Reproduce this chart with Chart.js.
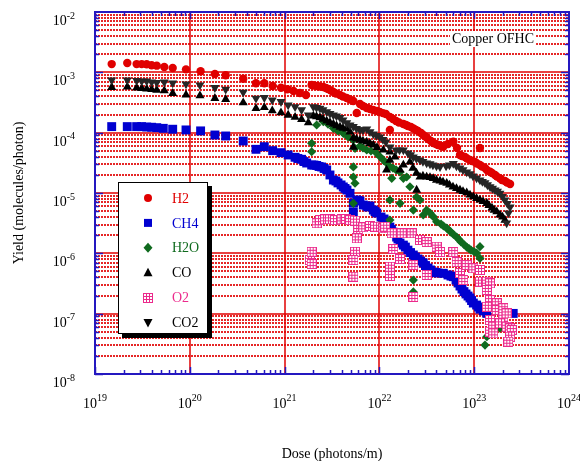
<!DOCTYPE html>
<html>
<head>
<meta charset="utf-8">
<script src="https://cdn.jsdelivr.net/npm/chart.js@4/dist/chart.umd.min.js"></script>
<style>
  html, body { margin: 0; padding: 0; background: #fff; }
  canvas { display: block; }
</style>
</head>
<body>
<canvas id="chart" width="580" height="461"></canvas>
<script>
// [dose (photons/m), yield (molecules/photon)]
const h2 = [
  [1.50e19, 1.37e-3], [2.19e19, 1.43e-3], [2.75e19, 1.37e-3], [3.11e19, 1.37e-3], [3.51e19, 1.36e-3],
  [3.96e19, 1.31e-3], [4.48e19, 1.29e-3], [5.38e19, 1.23e-3], [6.60e19, 1.18e-3], [9.12e19, 1.12e-3],
  [1.30e20, 1.04e-3], [1.84e20, 9.38e-4], [2.39e20, 8.93e-4], [3.66e20, 7.84e-4], [4.99e20, 6.58e-4],
  [6.11e20, 6.58e-4], [7.48e20, 5.93e-4], [9.16e20, 5.56e-4], [1.07e21, 5.24e-4], [1.24e21, 4.91e-4],
  [1.45e21, 4.54e-4], [1.68e21, 4.21e-4], [1.93e21, 6.17e-4], [2.20e21, 5.93e-4], [2.56e21, 5.71e-4],
  [2.87e21, 5.30e-4], [3.27e21, 4.72e-4], [3.84e21, 4.21e-4], [4.52e21, 3.76e-4], [5.31e21, 3.35e-4],
  [5.77e21, 2.12e-4], [6.24e21, 2.99e-4], [7.35e21, 2.56e-4], [8.63e21, 2.38e-4], [1.01e22, 2.20e-4],
  [1.17e22, 2.04e-4], [1.29e22, 1.82e-4], [1.29e22, 1.11e-4], [1.50e22, 1.56e-4], [1.79e22, 1.39e-4],
  [2.00e22, 1.29e-4], [2.28e22, 1.18e-4], [2.55e22, 1.07e-4], [2.90e22, 9.15e-5], [3.26e22, 7.85e-5],
  [3.70e22, 6.74e-5], [4.15e22, 6.24e-5], [4.72e22, 5.85e-5], [5.29e22, 6.49e-5], [6.02e22, 7.08e-5],
  [6.59e22, 5.57e-5], [7.08e22, 4.27e-5], [8.00e22, 3.95e-5], [9.03e22, 3.52e-5], [1.02e23, 3.27e-5],
  [1.15e23, 5.57e-5], [1.15e23, 2.91e-5], [1.30e23, 2.59e-5], [1.47e23, 2.25e-5], [1.66e23, 1.99e-5],
  [1.87e23, 1.75e-5], [2.11e23, 1.58e-5], [2.39e23, 1.41e-5],
  [2.04e21, 6.05e-4], [2.36e21, 5.82e-4], [2.73e21, 5.50e-4], [3.08e21, 5.00e-4], [3.48e21, 4.46e-4],
  [4.13e21, 3.97e-4], [4.90e21, 3.55e-4], [6.71e21, 2.77e-4], [7.96e21, 2.47e-4], [9.44e21, 2.29e-4],
  [1.09e22, 2.11e-4], [1.39e22, 1.68e-4], [1.61e22, 1.47e-4], [1.91e22, 1.34e-4], [2.15e22, 1.24e-4],
  [2.43e22, 1.11e-4], [2.75e22, 9.86e-5], [3.10e22, 8.48e-5], [3.50e22, 7.28e-5], [3.95e22, 6.49e-5],
  [4.47e22, 6.01e-5], [7.43e22, 4.10e-5], [8.39e22, 3.73e-5], [9.48e22, 3.39e-5], [1.07e23, 3.08e-5],
  [1.21e23, 2.75e-5], [1.36e23, 2.40e-5], [1.54e23, 2.14e-5], [1.74e23, 1.87e-5], [1.96e23, 1.64e-5],
  [2.22e23, 1.49e-5]
];

const ch4 = [
  [1.50e19, 1.26e-4], [2.19e19, 1.26e-4], [2.75e19, 1.26e-4], [3.11e19, 1.26e-4], [3.51e19, 1.24e-4],
  [3.96e19, 1.23e-4], [4.48e19, 1.21e-4], [5.25e19, 1.18e-4], [6.60e19, 1.14e-4], [9.12e19, 1.11e-4],
  [1.30e20, 1.07e-4], [1.84e20, 9.15e-5], [2.39e20, 8.81e-5], [3.66e20, 7.28e-5], [4.99e20, 5.30e-5],
  [6.11e20, 5.85e-5], [7.48e20, 5.03e-5], [9.16e20, 4.66e-5], [1.09e21, 4.27e-5], [1.29e21, 3.91e-5],
  [1.51e21, 3.62e-5], [1.71e21, 3.14e-5], [1.93e21, 2.91e-5], [2.18e21, 2.86e-5], [2.46e21, 2.70e-5],
  [2.78e21, 2.41e-5], [3.01e21, 1.99e-5], [3.27e21, 1.64e-5], [3.66e21, 1.47e-5], [4.16e21, 1.26e-5],
  [4.55e21, 1.12e-5], [4.90e21, 9.89e-6], [5.31e21, 6.82e-6], [5.31e21, 4.84e-6], [5.77e21, 7.66e-6],
  [6.24e21, 7.37e-6], [6.76e21, 6.32e-6], [7.35e21, 6.08e-6], [7.96e21, 6.08e-6], [8.63e21, 5.22e-6],
  [9.37e21, 4.66e-6], [1.04e22, 4.00e-6], [1.19e22, 3.43e-6], [1.29e22, 2.73e-6], [1.39e22, 2.25e-6],
  [1.52e22, 1.86e-6], [1.65e22, 1.48e-6], [1.79e22, 1.37e-6], [2.00e22, 1.13e-6], [2.28e22, 9.38e-7],
  [2.55e22, 8.05e-7], [2.90e22, 6.92e-7], [3.26e22, 5.71e-7], [3.70e22, 4.90e-7], [4.15e22, 4.72e-7],
  [4.72e22, 4.67e-7], [5.29e22, 4.38e-7], [6.02e22, 4.10e-7], [6.75e22, 3.22e-7], [7.43e22, 2.56e-7],
  [8.20e22, 2.12e-7], [9.03e22, 1.82e-7], [9.79e22, 1.50e-7], [1.06e23, 1.39e-7], [1.15e23, 1.19e-7],
  [1.25e23, 1.11e-7], [1.36e23, 1.01e-7], [2.58e23, 1.01e-7],
  [1.38e21, 3.73e-5], [1.60e21, 3.32e-5], [2.04e21, 2.91e-5], [2.31e21, 2.75e-5], [2.61e21, 2.55e-5],
  [3.48e21, 1.58e-5], [3.94e21, 1.36e-5], [4.34e21, 1.19e-5], [5.94e21, 7.51e-6], [7.59e21, 5.86e-6],
  [8.99e21, 4.93e-6], [1.12e22, 3.71e-6], [1.34e22, 2.48e-6], [1.57e22, 1.73e-6], [1.88e22, 1.27e-6],
  [2.13e22, 1.03e-6], [2.40e22, 8.69e-7], [2.72e22, 7.46e-7], [3.06e22, 6.28e-7], [3.46e22, 5.30e-7],
  [3.95e22, 4.81e-7], [5.69e22, 4.20e-7], [6.43e22, 3.61e-7], [7.08e22, 2.87e-7], [7.80e22, 2.32e-7],
  [8.61e22, 1.96e-7], [9.38e22, 1.65e-7], [1.11e23, 1.29e-7]
];

const h2o = [
  [1.93e21, 6.67e-5], [1.93e21, 4.83e-5], [2.18e21, 1.34e-4], [2.56e21, 1.52e-4], [2.87e21, 1.39e-4],
  [3.27e21, 1.18e-4], [3.66e21, 1.07e-4], [4.16e21, 9.76e-5], [4.67e21, 8.48e-5], [5.31e21, 7.55e-5],
  [5.53e21, 5.51e-5], [5.31e21, 2.70e-5], [5.31e21, 1.84e-5], [5.53e21, 1.45e-5], [5.31e21, 6.75e-6],
  [6.24e21, 6.01e-5], [7.35e21, 5.16e-5], [8.15e21, 4.97e-5], [9.37e21, 4.55e-5], [1.10e22, 3.52e-5],
  [1.29e22, 2.73e-5], [1.35e22, 1.75e-5], [1.50e22, 2.41e-5], [1.65e22, 2.23e-5], [1.79e22, 1.75e-5],
  [1.94e22, 1.84e-5], [2.10e22, 1.27e-5], [1.29e22, 7.66e-6], [1.65e22, 6.75e-6], [1.29e22, 3.56e-6],
  [2.28e22, 5.22e-6], [2.47e22, 8.59e-6], [2.68e22, 7.66e-6], [2.90e22, 4.32e-6], [3.15e22, 5.22e-6],
  [3.70e22, 4.05e-6], [4.02e22, 3.34e-6], [4.47e22, 3.06e-6], [5.13e22, 2.63e-6], [5.69e22, 2.25e-6],
  [6.53e22, 1.86e-6], [7.26e22, 1.54e-6], [8.34e22, 1.27e-6], [9.25e22, 1.13e-6], [1.06e23, 1.01e-6],
  [1.15e23, 1.29e-6], [1.15e23, 8.26e-7], [2.28e22, 3.61e-7], [2.28e22, 2.29e-7], [1.36e23, 4.15e-8],
  [1.30e23, 3.02e-8], [1.47e23, 5.36e-8], [1.87e23, 5.78e-8],
  [6.71e21, 5.57e-5], [1.01e22, 4.03e-5], [1.19e22, 3.14e-5], [1.39e22, 2.59e-5], [3.42e22, 4.66e-6],
  [4.74e22, 2.84e-6], [5.36e22, 2.44e-6], [6.05e22, 2.05e-6], [6.92e22, 1.69e-6], [7.80e22, 1.40e-6],
  [8.81e22, 1.20e-6], [9.95e22, 1.07e-6]
];

const co = [
  [1.50e19, 5.65e-4], [2.19e19, 5.71e-4], [2.75e19, 5.50e-4], [3.11e19, 5.40e-4], [3.51e19, 5.30e-4],
  [3.96e19, 5.19e-4], [4.48e19, 5.09e-4], [5.38e19, 4.96e-4], [6.60e19, 4.49e-4], [9.12e19, 4.21e-4],
  [1.28e20, 4.10e-4], [1.84e20, 3.71e-4], [2.39e20, 3.57e-4], [3.66e20, 3.14e-4], [4.99e20, 2.53e-4],
  [6.11e20, 2.63e-4], [7.41e20, 2.31e-4], [9.16e20, 2.14e-4], [1.09e21, 1.96e-4], [1.29e21, 1.80e-4],
  [1.51e21, 1.66e-4], [1.78e21, 1.46e-4], [2.01e21, 1.89e-4], [2.36e21, 1.78e-4], [2.78e21, 1.56e-4],
  [3.27e21, 1.39e-4], [3.84e21, 1.24e-4], [4.52e21, 1.15e-4], [5.31e21, 8.17e-5], [5.31e21, 5.78e-5],
  [6.24e21, 7.55e-5], [7.35e21, 7.00e-5], [8.63e21, 6.24e-5], [1.10e22, 5.16e-5], [1.19e22, 2.41e-5],
  [1.29e22, 3.52e-5], [1.46e22, 3.95e-5], [1.65e22, 2.41e-5], [1.79e22, 2.91e-5], [2.10e22, 3.27e-5],
  [2.47e22, 1.12e-5], [2.68e22, 1.84e-5], [3.15e22, 1.84e-5], [3.70e22, 1.75e-5], [4.36e22, 1.58e-5],
  [5.13e22, 1.45e-5], [5.97e22, 1.26e-5], [7.08e22, 1.12e-5], [8.34e22, 1.01e-5], [9.79e22, 8.69e-6],
  [1.15e23, 7.66e-6], [1.36e23, 6.75e-6], [1.54e23, 5.64e-6], [1.73e23, 4.90e-6], [1.87e23, 4.32e-6],
  [2.11e23, 3.56e-6],
  [2.17e21, 1.85e-4], [2.54e21, 1.68e-4], [3.01e21, 1.47e-4], [3.53e21, 1.31e-4], [4.13e21, 1.19e-4],
  [4.90e21, 1.03e-4], [5.73e21, 7.85e-5], [6.71e21, 7.28e-5], [7.96e21, 6.61e-5], [9.44e21, 5.68e-5],
  [1.29e22, 4.78e-5], [2.26e22, 2.59e-5], [2.46e22, 2.14e-5], [2.88e22, 1.91e-5], [3.42e22, 1.81e-5],
  [4.00e22, 1.64e-5], [4.69e22, 1.52e-5], [5.48e22, 1.36e-5], [6.50e22, 1.19e-5], [7.62e22, 1.06e-5],
  [9.03e22, 9.27e-6], [1.06e23, 8.11e-6], [1.24e23, 7.23e-6], [1.43e23, 6.21e-6], [1.62e23, 5.22e-6],
  [1.99e23, 4.00e-6]
];

const o2 = [
  [1.85e21, 7.75e-7], [1.93e21, 1.06e-6], [1.93e21, 6.65e-7], [2.18e21, 3.15e-6], [2.36e21, 3.56e-6],
  [2.67e21, 3.66e-6], [3.01e21, 3.66e-6], [3.40e21, 3.56e-6], [4.00e21, 3.66e-6], [4.45e21, 3.71e-6],
  [4.90e21, 3.56e-6], [5.53e21, 3.48e-6], [5.53e21, 1.06e-6], [5.31e21, 7.75e-7], [5.31e21, 4.10e-7],
  [5.98e21, 2.44e-6], [5.77e21, 1.77e-6], [6.76e21, 2.70e-6], [7.96e21, 2.84e-6], [8.99e21, 2.76e-6],
  [1.10e22, 2.60e-6], [1.15e22, 2.76e-6], [1.35e22, 2.15e-6], [1.40e22, 1.18e-6], [1.29e22, 6.00e-7],
  [1.29e22, 4.21e-7], [1.65e22, 8.05e-7], [1.72e22, 2.15e-6], [2.19e22, 2.15e-6], [2.68e22, 1.66e-6],
  [3.15e22, 1.54e-6], [4.02e22, 1.29e-6], [4.36e22, 1.05e-6], [2.28e22, 6.40e-7], [3.15e22, 4.38e-7],
  [2.28e22, 1.89e-7], [6.02e22, 1.05e-6], [6.53e22, 7.18e-7], [7.08e22, 4.72e-7], [7.67e22, 3.61e-7],
  [8.34e22, 6.40e-7], [9.79e22, 5.65e-7], [1.15e23, 5.30e-7], [1.15e23, 3.39e-7], [1.36e23, 3.39e-7],
  [1.47e23, 3.18e-7], [1.36e23, 2.47e-7], [1.47e23, 1.68e-7], [1.36e23, 1.30e-7], [1.73e23, 1.49e-7],
  [1.47e23, 7.85e-8], [1.73e23, 1.15e-7], [2.03e23, 1.23e-7], [2.03e23, 8.91e-8], [2.20e23, 1.01e-7],
  [1.47e23, 5.02e-8], [1.59e23, 6.08e-8], [1.59e23, 4.72e-8], [1.87e23, 6.92e-8], [2.20e23, 6.08e-8],
  [2.39e23, 5.71e-8], [2.49e23, 5.36e-8], [2.39e23, 4.15e-8], [2.29e23, 3.43e-8]
];

const co2 = [
  [1.50e19, 7.46e-4], [2.19e19, 7.46e-4], [2.75e19, 7.32e-4], [3.11e19, 7.18e-4], [3.51e19, 7.18e-4],
  [3.96e19, 6.91e-4], [4.48e19, 6.78e-4], [5.38e19, 6.91e-4], [6.60e19, 6.65e-4], [9.12e19, 6.41e-4],
  [1.28e20, 6.17e-4], [1.84e20, 5.56e-4], [2.39e20, 5.24e-4], [3.66e20, 4.67e-4], [4.99e20, 3.71e-4],
  [6.11e20, 3.80e-4], [7.41e20, 3.48e-4], [9.16e20, 3.26e-4], [1.09e21, 2.87e-4], [1.29e21, 2.69e-4],
  [1.51e21, 2.38e-4], [1.78e21, 1.96e-4], [2.01e21, 2.69e-4], [2.36e21, 2.53e-4], [2.78e21, 2.22e-4],
  [3.27e21, 1.96e-4], [3.84e21, 1.78e-4], [4.52e21, 1.45e-4], [5.31e21, 1.26e-4], [6.24e21, 1.11e-4],
  [7.35e21, 1.15e-4], [8.63e21, 9.51e-5], [1.01e22, 8.48e-5], [1.17e22, 7.00e-5], [1.29e22, 5.78e-5],
  [1.50e22, 5.16e-5], [1.79e22, 5.16e-5], [2.00e22, 4.60e-5], [2.28e22, 3.95e-5], [2.68e22, 3.52e-5],
  [3.15e22, 3.14e-5], [3.67e22, 2.91e-5], [4.36e22, 2.73e-5], [5.05e22, 2.80e-5], [6.02e22, 3.08e-5],
  [7.08e22, 2.59e-5], [8.34e22, 2.23e-5], [9.71e22, 1.91e-5], [1.15e23, 1.64e-5], [1.30e23, 1.47e-5],
  [1.47e23, 1.26e-5], [1.66e23, 1.12e-5], [1.87e23, 9.89e-6], [2.11e23, 7.66e-6], [2.39e23, 5.86e-6],
  [2.20e23, 3.18e-6],
  [2.17e21, 2.61e-4], [2.54e21, 2.38e-4], [3.01e21, 2.08e-4], [3.53e21, 1.89e-4], [4.13e21, 1.62e-4],
  [4.90e21, 1.34e-4], [5.73e21, 1.17e-4], [6.71e21, 1.11e-4], [7.96e21, 1.03e-4], [9.31e21, 8.97e-5],
  [1.09e22, 7.71e-5], [1.63e22, 5.16e-5], [2.13e22, 4.27e-5], [2.46e22, 3.73e-5], [2.88e22, 3.33e-5],
  [3.42e22, 3.03e-5], [4.00e22, 2.80e-5], [5.48e22, 2.91e-5], [6.50e22, 2.80e-5], [7.62e22, 2.41e-5],
  [9.03e22, 2.07e-5], [1.06e23, 1.77e-5], [1.22e23, 1.55e-5], [1.38e23, 1.36e-5], [1.56e23, 1.19e-5],
  [1.76e23, 1.06e-5], [1.99e23, 8.75e-6], [2.24e23, 6.70e-6], [2.30e23, 4.66e-6]
];

const seriesNames = ['H2', 'CH4', 'H2O', 'CO', 'O2', 'CO2'];
const xTickExps = [19, 20, 21, 22, 23, 24];
const yTickExps = [-8, -7, -6, -5, -4, -3, -2];

const RED = '#e00000';
const BLUE = '#0000d0';
const GREEN = '#0f6a1e';
const PINK = '#ec2a8c';
const DARK = '#262626';
const FRAME = '#2418c0';
const serif = '"Liberation Serif", "Times New Roman", serif';

// pink square with a 3x3 grid of white cells (O2 marker)
const o2Img = document.createElement('canvas');
o2Img.width = 10;
o2Img.height = 10;
(function () {
  const c = o2Img.getContext('2d');
  c.fillStyle = PINK;
  c.fillRect(0, 0, 10, 10);
  c.fillStyle = '#fff';
  for (let i = 0; i < 3; i++) {
    for (let j = 0; j < 3; j++) {
      c.fillRect(1 + i * 3, 1 + j * 3, 2, 2);
    }
  }
})();

function toPoints(arr) {
  return arr.map(p => ({x: p[0], y: p[1]}));
}

function drawMarker(ctx, kind, color, cx, cy) {
  if (kind === 'o2') {
    ctx.drawImage(o2Img, Math.round(cx - 5), Math.round(cy - 5));
    return;
  }
  ctx.fillStyle = color;
  ctx.beginPath();
  if (kind === 'circle') {
    ctx.arc(cx, cy, 4, 0, Math.PI * 2);
  } else if (kind === 'rect') {
    ctx.rect(cx - 4, cy - 4, 8, 8);
  } else if (kind === 'diamond') {
    ctx.moveTo(cx, cy - 5); ctx.lineTo(cx + 4.5, cy); ctx.lineTo(cx, cy + 5); ctx.lineTo(cx - 4.5, cy);
  } else if (kind === 'up') {
    ctx.moveTo(cx, cy - 5); ctx.lineTo(cx + 4.5, cy + 3.5); ctx.lineTo(cx - 4.5, cy + 3.5);
  } else if (kind === 'down') {
    ctx.moveTo(cx, cy + 5); ctx.lineTo(cx + 4.5, cy - 3.5); ctx.lineTo(cx - 4.5, cy - 3.5);
  }
  ctx.closePath();
  ctx.fill();
}

const legendItems = [
  {kind: 'circle', color: RED, text: RED},
  {kind: 'rect', color: BLUE, text: BLUE},
  {kind: 'diamond', color: GREEN, text: GREEN},
  {kind: 'up', color: '#000', text: '#000'},
  {kind: 'o2', color: PINK, text: PINK},
  {kind: 'down', color: '#000', text: '#000'}
];

const decor = {
  id: 'decor',
  beforeDraw(chart) {
    const ctx = chart.ctx;
    ctx.save();
    ctx.fillStyle = '#fff';
    ctx.fillRect(0, 0, chart.width, chart.height);
    ctx.restore();
  },
  beforeDatasetsDraw(chart) {
    const {ctx, chartArea: a, scales: {x, y}} = chart;
    ctx.save();
    // horizontal grid: solid at decades, dashed in between
    for (let e = -8; e < -2; e++) {
      for (let m = 1; m <= 9; m++) {
        if (e === -8 && m === 1) continue;
        const py = Math.round(y.getPixelForValue(m * Math.pow(10, e)));
        ctx.beginPath();
        if (m === 1) {
          ctx.setLineDash([]);
          ctx.lineWidth = 1.5;
          ctx.strokeStyle = RED;
        } else {
          ctx.setLineDash([2, 1]);
          ctx.lineWidth = 2;
          ctx.strokeStyle = '#e62626';
        }
        ctx.moveTo(a.left, py);
        ctx.lineTo(a.right, py);
        ctx.stroke();
      }
    }
    // vertical grid at decades
    ctx.setLineDash([]);
    ctx.lineWidth = 1.5;
    ctx.strokeStyle = RED;
    for (let e = 20; e <= 23; e++) {
      const px = Math.round(x.getPixelForValue(Math.pow(10, e)));
      ctx.beginPath();
      ctx.moveTo(px, a.top);
      ctx.lineTo(px, a.bottom);
      ctx.stroke();
    }
    ctx.restore();
  },
  afterDatasetsDraw(chart) {
    const {ctx, chartArea: a, scales: {x, y}} = chart;
    ctx.save();

    // ticks, pointing inward
    ctx.strokeStyle = FRAME;
    ctx.lineWidth = 1.5;
    for (let e = 19; e <= 23; e++) {
      for (let m = 1; m <= 9; m++) {
        const px = Math.round(x.getPixelForValue(m * Math.pow(10, e))) + 0.5;
        const len = m === 1 ? 7 : 4;
        ctx.beginPath();
        ctx.moveTo(px, a.bottom); ctx.lineTo(px, a.bottom - len);
        ctx.moveTo(px, a.top); ctx.lineTo(px, a.top + len);
        ctx.stroke();
      }
    }
    for (let e = -8; e <= -3; e++) {
      for (let m = 1; m <= 9; m++) {
        const py = Math.round(y.getPixelForValue(m * Math.pow(10, e))) + 0.5;
        const len = m === 1 ? 8 : 4;
        ctx.beginPath();
        ctx.moveTo(a.left, py); ctx.lineTo(a.left + len, py);
        ctx.moveTo(a.right, py); ctx.lineTo(a.right - len, py);
        ctx.stroke();
      }
    }
    // frame
    ctx.lineWidth = 2;
    ctx.strokeRect(a.left, a.top, a.right - a.left, a.bottom - a.top);

    // tick labels with superscript exponents
    ctx.fillStyle = '#000';
    ctx.textBaseline = 'alphabetic';
    ctx.textAlign = 'left';
    const big = '14px ' + serif;
    const small = '10px ' + serif;
    yTickExps.forEach(e => {
      const py = y.getPixelForValue(Math.pow(10, e));
      const ex = String(e);
      ctx.font = small;
      const w2 = ctx.measureText(ex).width;
      ctx.font = big;
      const w1 = ctx.measureText('10').width;
      const right = 75;
      ctx.fillText('10', right - w2 - w1, py + 13);
      ctx.font = small;
      ctx.fillText(ex, right - w2, py + 6.5);
    });
    xTickExps.forEach(e => {
      const px = x.getPixelForValue(Math.pow(10, e));
      const ex = String(e);
      ctx.font = small;
      const w2 = ctx.measureText(ex).width;
      ctx.font = big;
      const w1 = ctx.measureText('10').width;
      const left = px - (w1 + w2) / 2;
      ctx.fillText('10', left, a.bottom + 34);
      ctx.font = small;
      ctx.fillText(ex, left + w1, a.bottom + 27);
    });

    // axis titles
    ctx.font = big;
    ctx.textAlign = 'center';
    ctx.fillText('Dose (photons/m)', (a.left + a.right) / 2, 458);
    ctx.save();
    ctx.translate(23, (a.top + a.bottom) / 2);
    ctx.rotate(-Math.PI / 2);
    ctx.fillText('Yield (molecules/photon)', 0, 0);
    ctx.restore();

    // material note
    ctx.textAlign = 'left';
    const note = 'Copper OFHC';
    const nw = ctx.measureText(note).width;
    ctx.fillStyle = '#fff';
    ctx.fillRect(450, 31, nw + 4, 16);
    ctx.fillStyle = '#000';
    ctx.fillText(note, 452, 42.5);

    // legend box with drop shadow
    const bx = 118, by = 182, bw = 89, bh = 151;
    ctx.fillStyle = '#000';
    ctx.fillRect(bx + 4, by + 4, bw + 1, bh + 1);
    ctx.fillStyle = '#fff';
    ctx.fillRect(bx, by, bw, bh);
    ctx.strokeStyle = '#000';
    ctx.lineWidth = 1;
    ctx.strokeRect(bx + 0.5, by + 0.5, bw, bh);
    ctx.textBaseline = 'middle';
    legendItems.forEach((it, i) => {
      const cy = 198 + i * 24.9;
      drawMarker(ctx, it.kind, it.color, 148, cy);
      ctx.fillStyle = it.text;
      ctx.font = big;
      ctx.fillText(seriesNames[i], 172, cy + 1);
    });
    ctx.restore();
  }
};

const styles = [
  {pointStyle: 'circle', pointRadius: 4.2, color: RED, rotation: 0},
  {pointStyle: 'rect', pointRadius: 6.3, color: BLUE, rotation: 0},
  {pointStyle: 'rectRot', pointRadius: 4.6, color: GREEN, rotation: 0},
  {pointStyle: 'triangle', pointRadius: 5.2, color: '#000', rotation: 0},
  {pointStyle: o2Img, pointRadius: 5, color: PINK, rotation: 0},
  {pointStyle: 'triangle', pointRadius: 5.2, color: DARK, rotation: 180}
];
const seriesData = [h2, ch4, h2o, co, o2, co2];

const datasets = seriesData.map((d, i) => ({
  label: seriesNames[i],
  data: toPoints(d),
  pointStyle: styles[i].pointStyle,
  pointRadius: styles[i].pointRadius,
  pointRotation: styles[i].rotation,
  pointBackgroundColor: styles[i].color,
  pointBorderColor: styles[i].color,
  pointBorderWidth: 0,
  backgroundColor: styles[i].color,
  showLine: false,
  order: seriesData.length - i
}));

new Chart(document.getElementById('chart'), {
  type: 'scatter',
  data: {datasets},
  options: {
    responsive: false,
    animation: false,
    devicePixelRatio: 1,
    layout: {padding: {left: 95, right: 11, top: 12, bottom: 87}},
    plugins: {legend: {display: false}, tooltip: {enabled: false}},
    scales: {
      x: {type: 'logarithmic', min: 1e19, max: 1e24, display: false},
      y: {type: 'logarithmic', min: 1e-8, max: 1e-2, display: false}
    }
  },
  plugins: [decor]
});
</script>
</body>
</html>
